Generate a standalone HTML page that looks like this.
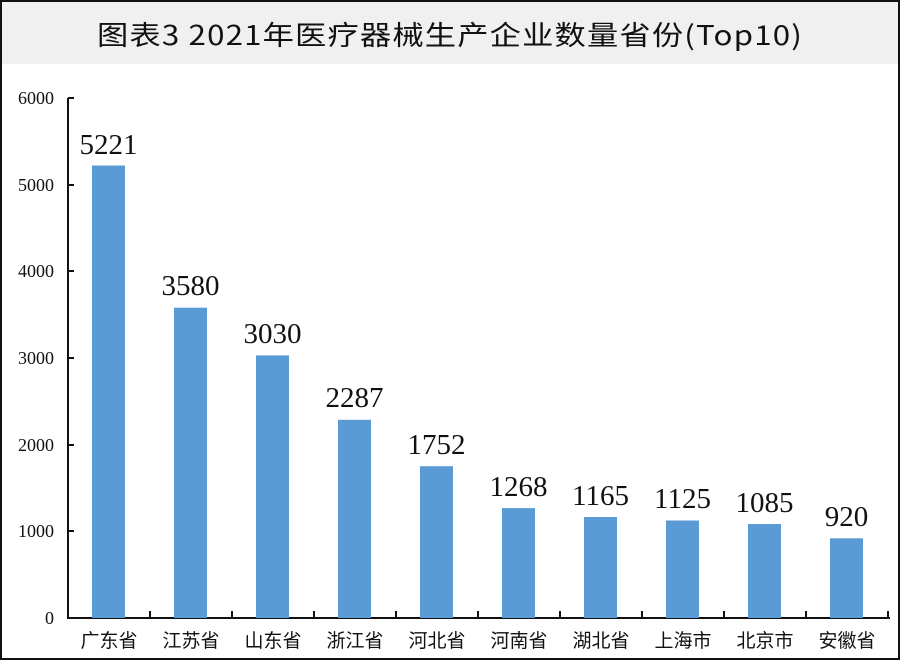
<!DOCTYPE html>
<html><head><meta charset="utf-8"><style>
html,body{margin:0;padding:0;background:#fff}
</style></head><body>
<svg width="900" height="660" xmlns="http://www.w3.org/2000/svg">
<rect x="0" y="0" width="900" height="660" fill="#fff"/>
<rect x="1" y="1" width="898" height="63" fill="#f0f0f0"/>
<rect x="1" y="1" width="898" height="658" fill="none" stroke="#111" stroke-width="2"/>
<text x="450" y="45" text-anchor="middle" font-family="'Noto Sans CJK SC',sans-serif" font-size="27" letter-spacing="1" fill="#111" textLength="706" lengthAdjust="spacingAndGlyphs">图表3  2021年医疗器械生产企业数量省份(Top10)</text>
<g font-family="'Liberation Serif',serif" font-size="18" fill="#111" text-anchor="end">
<text x="54" y="104">6000</text><text x="54" y="191">5000</text><text x="54" y="277">4000</text>
<text x="54" y="364">3000</text><text x="54" y="451">2000</text><text x="54" y="537">1000</text><text x="54" y="624">0</text>
</g>
<g stroke="#111" stroke-width="2">
<line x1="68" y1="98" x2="68" y2="618"/>
<line x1="67" y1="618" x2="890" y2="618"/>
<line x1="68" y1="98" x2="74" y2="98"/><line x1="68" y1="185" x2="74" y2="185"/>
<line x1="68" y1="271" x2="74" y2="271"/><line x1="68" y1="358" x2="74" y2="358"/>
<line x1="68" y1="445" x2="74" y2="445"/><line x1="68" y1="531" x2="74" y2="531"/>
<line x1="150" y1="611" x2="150" y2="618"/><line x1="232" y1="611" x2="232" y2="618"/>
<line x1="314" y1="611" x2="314" y2="618"/><line x1="396" y1="611" x2="396" y2="618"/>
<line x1="478" y1="611" x2="478" y2="618"/><line x1="560" y1="611" x2="560" y2="618"/>
<line x1="642" y1="611" x2="642" y2="618"/><line x1="724" y1="611" x2="724" y2="618"/>
<line x1="806" y1="611" x2="806" y2="618"/><line x1="888" y1="611" x2="888" y2="618"/>
</g>
<g fill="#5b9bd5">
<rect x="92" y="165.5" width="33" height="452.5"/>
<rect x="174" y="307.7" width="33" height="310.3"/>
<rect x="256" y="355.4" width="33" height="262.6"/>
<rect x="338" y="419.8" width="33" height="198.2"/>
<rect x="420" y="466.2" width="33" height="151.8"/>
<rect x="502" y="508.1" width="33" height="109.9"/>
<rect x="584" y="517.0" width="33" height="101"/>
<rect x="666" y="520.5" width="33" height="97.5"/>
<rect x="748" y="524.0" width="33" height="94"/>
<rect x="830" y="538.3" width="33" height="79.7"/>
</g>
<g font-family="'Liberation Serif',serif" font-size="29" fill="#111" text-anchor="middle">
<text x="108.5" y="154">5221</text><text x="190.5" y="295">3580</text><text x="272.5" y="343">3030</text>
<text x="354.5" y="407">2287</text><text x="436.5" y="454">1752</text><text x="518.5" y="496">1268</text>
<text x="600.5" y="505">1165</text><text x="682.5" y="508">1125</text><text x="764.5" y="512">1085</text>
<text x="846.5" y="526">920</text>
</g>
<g font-family="'Liberation Sans','Noto Sans CJK SC',sans-serif" font-size="19" fill="#111" text-anchor="middle">
<text x="109" y="647">广东省</text><text x="191" y="647">江苏省</text><text x="273" y="647">山东省</text>
<text x="355" y="647">浙江省</text><text x="437" y="647">河北省</text><text x="519" y="647">河南省</text>
<text x="601" y="647">湖北省</text><text x="683" y="647">上海市</text><text x="765" y="647">北京市</text>
<text x="847" y="647">安徽省</text>
</g>
</svg>
</body></html>
